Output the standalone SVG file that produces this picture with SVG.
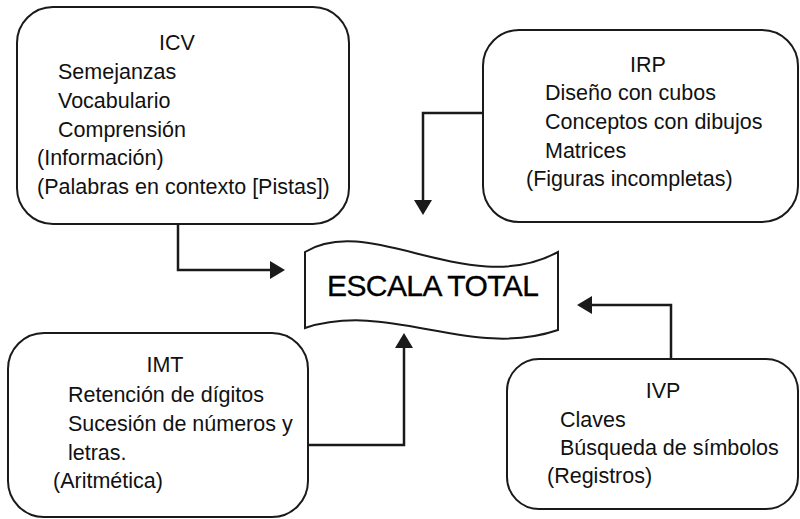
<svg xmlns="http://www.w3.org/2000/svg" width="800" height="519" viewBox="0 0 800 519">
  <style>
    .box { fill: #ffffff; stroke: #1a1a1a; stroke-width: 2; }
    .t { font-family: "Liberation Sans", Arial, sans-serif; font-size: 21.5px; fill: #111111; }
    .c { text-anchor: middle; }
    .conn { fill: none; stroke: #1a1a1a; stroke-width: 2.5; }
    .big { font-family: "Liberation Sans", Arial, sans-serif; font-size: 30px; fill: #000000; letter-spacing: -0.6px; stroke: #000000; stroke-width: 0.3; }
  </style>
  <defs>
    <marker id="arrow" viewBox="0 0 15 18" refX="0" refY="9" markerWidth="15" markerHeight="18" markerUnits="userSpaceOnUse" orient="auto">
      <path d="M0,0 L15,9 L0,18 Z" fill="#1a1a1a"/>
    </marker>
  </defs>

  <rect width="800" height="519" fill="#ffffff"/>

  <g id="connectors">
    <path class="conn" d="M178,224 V270 H270" marker-end="url(#arrow)"/>
    <path class="conn" d="M483,113 H423 V200" marker-end="url(#arrow)"/>
    <path class="conn" d="M308,445 H404 V348" marker-end="url(#arrow)"/>
    <path class="conn" d="M671,359 V305 H592" marker-end="url(#arrow)"/>
  </g>

  <g id="icv">
    <rect class="box" x="17" y="7" width="332" height="217" rx="36" ry="36"/>
    <text class="t c" x="177" y="50">ICV</text>
    <text class="t" x="58" y="79">Semejanzas</text>
    <text class="t" x="58" y="108">Vocabulario</text>
    <text class="t" x="58" y="137">Comprensión</text>
    <text class="t" x="37" y="165">(Información)</text>
    <text class="t" x="37" y="194">(Palabras en contexto [Pistas])</text>
  </g>

  <g id="irp">
    <rect class="box" x="483" y="30" width="315" height="192" rx="36" ry="36"/>
    <text class="t c" x="648" y="72">IRP</text>
    <text class="t" x="545" y="100">Diseño con cubos</text>
    <text class="t" x="545" y="129">Conceptos con dibujos</text>
    <text class="t" x="545" y="158">Matrices</text>
    <text class="t" x="526" y="186">(Figuras incompletas)</text>
  </g>

  <g id="escala-total">
    <path class="box" d="M305,252 C370,212 470,300 558,252 L558,330 C470,360 390,300 305,328 Z"/>
    <text class="big" x="327" y="296">ESCALA TOTAL</text>
  </g>

  <g id="imt">
    <rect class="box" x="8" y="333" width="300" height="184" rx="36" ry="36"/>
    <text class="t c" x="165" y="372">IMT</text>
    <text class="t" x="68" y="402">Retención de dígitos</text>
    <text class="t" x="68" y="431">Sucesión de números y</text>
    <text class="t" x="68" y="460">letras.</text>
    <text class="t" x="53" y="488">(Aritmética)</text>
  </g>

  <g id="ivp">
    <rect class="box" x="507" y="359" width="291" height="150" rx="32" ry="32"/>
    <text class="t c" x="663" y="398">IVP</text>
    <text class="t" x="560" y="427">Claves</text>
    <text class="t" x="560" y="455">Búsqueda de símbolos</text>
    <text class="t" x="547" y="483">(Registros)</text>
  </g>
</svg>
